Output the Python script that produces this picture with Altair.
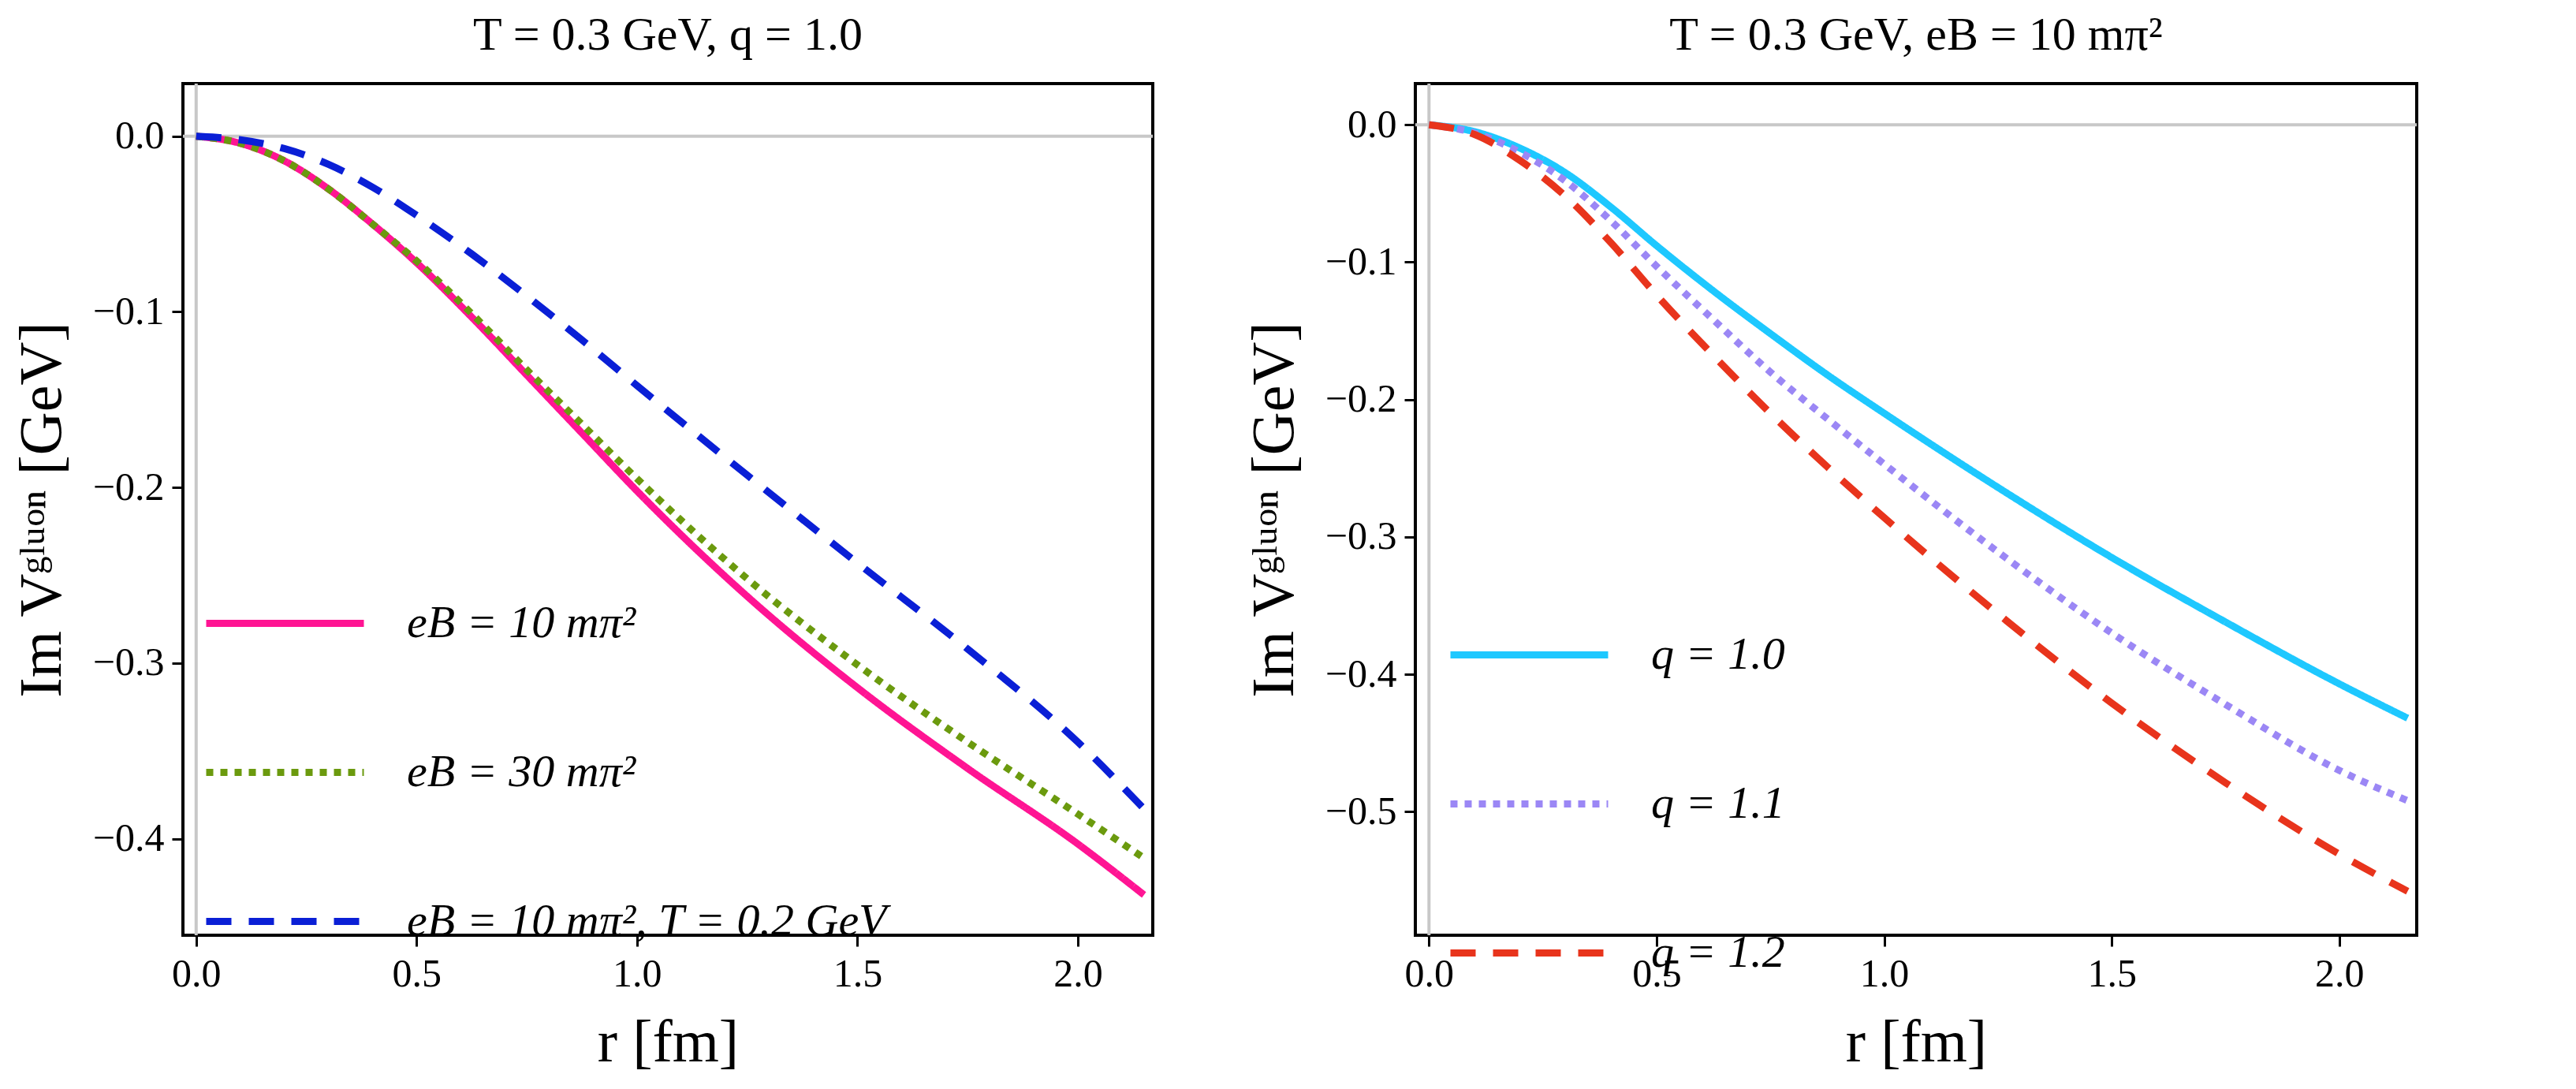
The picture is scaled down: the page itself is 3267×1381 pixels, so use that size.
import altair as alt
import pandas as pd

r = [0.0, 0.1, 0.2, 0.3, 0.4, 0.5, 0.625, 0.75, 0.875, 1.0, 1.25, 1.5, 1.75, 2.0, 2.15]

# left panel: T = 0.3 GeV, q = 1.0
eb10 = [0.0, -0.004, -0.014, -0.030, -0.050, -0.072, -0.103, -0.136, -0.169, -0.202, -0.262, -0.314, -0.360, -0.403, -0.432]
eb30 = [0.0, -0.004, -0.014, -0.030, -0.050, -0.071, -0.101, -0.133, -0.164, -0.195, -0.252, -0.301, -0.345, -0.386, -0.411]
eb10_t02 = [0.0, -0.002, -0.007, -0.016, -0.029, -0.045, -0.067, -0.091, -0.116, -0.142, -0.193, -0.243, -0.292, -0.345, -0.383]
left_labels = ["eB = 10 m\u03c0\u00b2", "eB = 30 m\u03c0\u00b2", "eB = 10 m\u03c0\u00b2,  T = 0.2 GeV"]
left_colors = ["#ff1493", "#6b9a0e", "#0a1fd6"]

# right panel: T = 0.3 GeV, eB = 10 m_pi^2
q10 = [0.0, -0.005, -0.017, -0.035, -0.060, -0.088, -0.121, -0.152, -0.182, -0.210, -0.264, -0.315, -0.362, -0.407, -0.432]
q11 = [0.0, -0.006, -0.020, -0.041, -0.070, -0.103, -0.142, -0.180, -0.214, -0.247, -0.311, -0.370, -0.422, -0.470, -0.492]
q12 = [0.0, -0.007, -0.026, -0.052, -0.086, -0.124, -0.168, -0.210, -0.249, -0.286, -0.356, -0.421, -0.479, -0.531, -0.558]
right_labels = ["q = 1.0", "q = 1.1", "q = 1.2"]
right_colors = ["#1ec8ff", "#9b87f5", "#e8341c"]

dashes = [[1, 0], [9, 9], [32, 22]]
SERIF = "Liberation Serif"


def long_table(series, labels):
    rows = []
    for vals, lab in zip(series, labels):
        for x, y in zip(r, vals):
            rows.append({"r": x, "V": y, "curve": lab})
    return pd.DataFrame(rows)


def panel(df, labels, colors, ydom, yticks, title, lx, ly, w):
    zero = pd.DataFrame({"z": [0.0]})
    hline = alt.Chart(zero).mark_rule(color="#c8c8c8", strokeWidth=4).encode(y="z:Q")
    vline = alt.Chart(zero).mark_rule(color="#c8c8c8", strokeWidth=4).encode(x="z:Q")
    lines = alt.Chart(df).mark_line(strokeWidth=9, clip=True, interpolate="monotone").encode(
        x=alt.X("r:Q", scale=alt.Scale(domain=[-0.03, 2.17], nice=False, zero=False),
                axis=alt.Axis(values=[0, 0.5, 1.0, 1.5, 2.0], format=".1f"),
                title="r  [fm]"),
        y=alt.Y("V:Q", scale=alt.Scale(domain=ydom, nice=False, zero=False),
                axis=alt.Axis(values=yticks, format=".1f"),
                title="Im V\u1d4d\u02e1\u1d58\u1d52\u207f  [GeV]"),
        color=alt.Color("curve:N", scale=alt.Scale(domain=labels, range=colors),
                        legend=alt.Legend(orient="none", legendX=lx, legendY=ly, title=None)),
        strokeDash=alt.StrokeDash("curve:N", scale=alt.Scale(domain=labels, range=dashes),
                                  legend=alt.Legend(orient="none", legendX=lx, legendY=ly, title=None)),
    )
    return (hline + vline + lines).properties(
        width=w, height=1080,
        title=alt.TitleParams(title, fontSize=60, font=SERIF, fontWeight="normal", offset=28),
    )


left = panel(long_table([eb10, eb30, eb10_t02], left_labels), left_labels, left_colors,
             [-0.455, 0.03], [-0.4, -0.3, -0.2, -0.1, 0.0],
             "T = 0.3 GeV,  q = 1.0", 25, 580, 1230)
right = panel(long_table([q10, q11, q12], right_labels), right_labels, right_colors,
              [-0.59, 0.03], [-0.5, -0.4, -0.3, -0.2, -0.1, 0.0],
              "T = 0.3 GeV,  eB = 10 m\u03c0\u00b2", 40, 620, 1270)

chart = (
    alt.hconcat(left, right, spacing=110)
    .resolve_scale(color="independent", strokeDash="independent")
    .properties(padding={"left": 5, "top": 5, "right": 5, "bottom": 5})
    .configure_view(stroke="black", strokeWidth=4)
    .configure_axis(
        labelFont=SERIF, titleFont=SERIF, labelFontSize=50, titleFontSize=76,
        titleFontWeight="normal", labelColor="black", titleColor="black",
        grid=False, domain=False, tickColor="black", tickWidth=3, tickSize=14,
        labelPadding=10, titlePadding=25,
    )
    .configure_legend(
        labelFont=SERIF, labelFontSize=58, labelFontStyle="italic", labelColor="black",
        symbolType="stroke", symbolSize=40000, symbolStrokeWidth=9,
        rowPadding=55, labelOffset=50, labelLimit=1200,
    )
)

chart.save("out.html", embed_options={"renderer": "svg", "actions": False})
